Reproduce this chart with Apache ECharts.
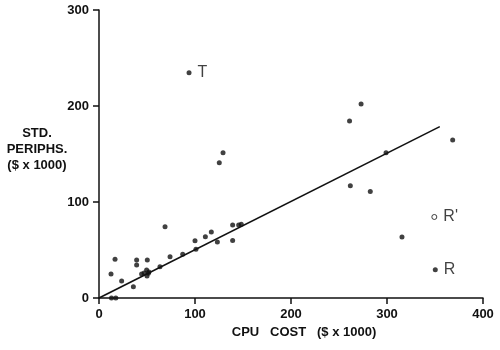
<!DOCTYPE html>
<html>
<head>
<meta charset="utf-8">
<script src="https://cdn.jsdelivr.net/npm/echarts@6/dist/echarts.min.js"></script>
<style>html,body{margin:0;padding:0;background:#fff}#c{width:500px;height:350px}</style>
</head>
<body>
<div id="c"></div>
<script>
// CPU cost ($ x 1000) and standard peripherals cost ($ x 1000)
var cpuCost = [13, 17.5, 12.5, 16.7, 23.6, 35.8, 39.2, 39.2, 44.4, 47, 49.6, 51.4, 50, 52, 50.3, 63.5, 68.8, 74, 87.2, 100, 101, 110.8, 117, 123.3, 125.3, 129.2, 139.2, 139.2, 145.5, 148.2, 261, 273, 261.8, 282.6, 299, 315.6, 368.4];
var periphCost = [0, 0, 25, 40.3, 17.7, 11.8, 39.6, 34.4, 25, 26, 29.2, 25.7, 23, 27, 39.6, 32.6, 74.3, 43, 45.5, 59.7, 50.7, 63.9, 68.7, 58.3, 141, 151.4, 76, 60, 76, 76.7, 184.4, 202, 117, 111, 151.4, 63.5, 164.6];
// labelled points
var tPoint = [93.8, 234.7];
var rPoint = [350.3, 29.5];
var rPrimePoint = [349.3, 84.4];
// fitted line end points
var fitX = [0, 355];
var fitY = [0, 178.5];
var xTicks = [0, 100, 200, 300, 400];
var yTicks = [0, 100, 200, 300];

var ink = '#111';
var font = 'Liberation Sans';
var chart = echarts.init(document.getElementById('c'), null, {renderer: 'canvas'});
var pts = cpuCost.map(function (x, i) { return [x, periphCost[i]]; });
var lbl = {color: ink, fontFamily: font, fontSize: 16, fontWeight: 'normal'};
chart.setOption({
  animation: false,
  backgroundColor: '#fff',
  grid: {left: 99, top: 10, right: 17, bottom: 52},
  xAxis: {
    type: 'value', min: 0, max: 400, interval: 100,
    axisLine: {show: true, lineStyle: {color: ink, width: 1.5}},
    axisTick: {show: true, inside: false, length: 6, lineStyle: {color: ink, width: 1.5}},
    axisLabel: {color: ink, fontFamily: font, fontSize: 13, fontWeight: 'bold', margin: 10,
      formatter: function (v) { return xTicks.indexOf(v) >= 0 ? String(v) : ''; }},
    splitLine: {show: false}
  },
  yAxis: {
    type: 'value', min: 0, max: 300, interval: 100,
    axisLine: {show: true, lineStyle: {color: ink, width: 1.5}},
    axisTick: {show: true, inside: false, length: 6, lineStyle: {color: ink, width: 1.5}},
    axisLabel: {color: ink, fontFamily: font, fontSize: 13, fontWeight: 'bold', margin: 10,
      formatter: function (v) { return yTicks.indexOf(v) >= 0 ? String(v) : ''; }},
    splitLine: {show: false}
  },
  graphic: [{
    type: 'text', x: 37, y: 125,
    style: {text: 'STD.\nPERIPHS.\n($ x 1000)', fill: ink, font: 'bold 13px "Liberation Sans"', textAlign: 'center', lineHeight: 16}
  }, {
    type: 'text', x: 304, y: 326,
    style: {text: 'CPU   COST   ($ x 1000)', fill: ink, font: 'bold 13px "Liberation Sans"', textAlign: 'center'}
  }],
  series: [
    {
      type: 'line', data: fitX.map(function (x, i) { return [x, fitY[i]]; }),
      showSymbol: false, lineStyle: {color: ink, width: 1.6}, z: 2
    },
    {
      type: 'scatter', data: pts, symbol: 'circle', symbolSize: 5,
      itemStyle: {color: ink}, z: 3
    },
    {
      type: 'scatter', symbol: 'circle', symbolSize: 5, itemStyle: {color: ink}, z: 3,
      data: [
        {value: tPoint, label: Object.assign({show: true, formatter: 'T', position: 'right', distance: 6}, lbl)},
        {value: rPoint, label: Object.assign({show: true, formatter: 'R', position: 'right', distance: 6}, lbl)}
      ]
    },
    {
      type: 'scatter', symbol: 'circle', symbolSize: 5,
      itemStyle: {color: '#fff', borderColor: ink, borderWidth: 1}, z: 3,
      data: [
        {value: rPrimePoint, label: Object.assign({show: true, formatter: "R'", position: 'right', distance: 6}, lbl)}
      ]
    }
  ]
});
</script>
</body>
</html>
